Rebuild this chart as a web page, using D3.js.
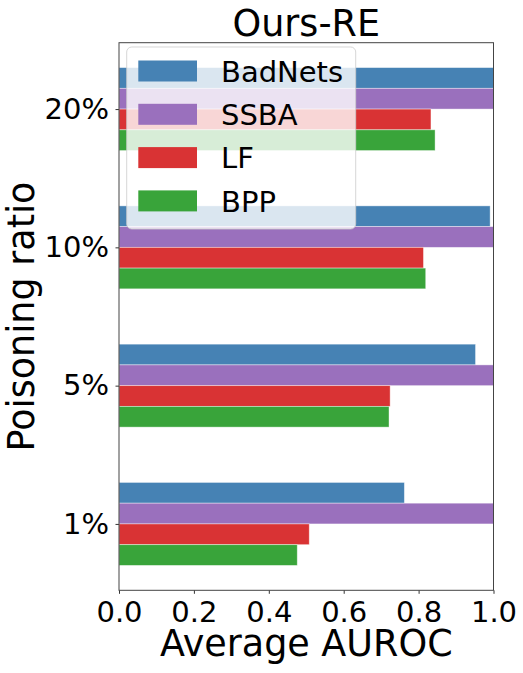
<!DOCTYPE html>
<html>
<head>
<meta charset="utf-8">
<script src="https://cdn.jsdelivr.net/npm/d3@7"></script>
<style>
  body { margin: 0; background: #fff; }
  svg text { font-family: "DejaVu Sans", sans-serif; fill: #000; }
</style>
</head>
<body>
<div id="chart"></div>
<script>
// data
var categories = ["1%", "5%", "10%", "20%"];
var seriesNames = ["BadNets", "SSBA", "LF", "BPP"];
var badnets = [0.762, 0.952, 0.991, 1.0];
var ssba = [1.0, 1.0, 1.0, 1.0];
var lf = [0.508, 0.724, 0.813, 0.833];
var bpp = [0.476, 0.721, 0.819, 0.844];
var xTicks = [0, 0.2, 0.4, 0.6, 0.8, 1.0];

var colors = ["#4682B4", "#9A70BD", "#D93334", "#39A43A"];
var seriesValues = [badnets, ssba, lf, bpp];

var svgWidth = 523, svgHeight = 673;
var margin = { top: 42.7, bottom: 82.7, left: 119, right: 29.5 };
var width = svgWidth - margin.left - margin.right;
var height = svgHeight - margin.top - margin.bottom;

var svg = d3.select("#chart")
  .append("svg")
  .attr("width", svgWidth)
  .attr("height", svgHeight);

var chartGroup = svg.append("g")
  .attr("transform", `translate(${margin.left}, ${margin.top})`);

// scales
var xScale = d3.scaleLinear().domain([0, 1]).range([0, width]);
var yScale = d3.scaleLinear().domain([-0.48, 3.48]).range([height, 0]);

var barH = 0.15;
// offset of each series' bar top from category centre
var offsets = [0.3, 0.15, 0, -0.15];

var rows = [];
seriesNames.forEach(function(name, s) {
  categories.forEach(function(cat, i) {
    rows.push({ s: s, i: i, value: seriesValues[s][i] });
  });
});

chartGroup.selectAll("rect.bar")
  .data(rows)
  .enter()
  .append("rect")
  .attr("class", "bar")
  .attr("x", xScale(0))
  .attr("y", d => yScale(d.i + offsets[d.s]))
  .attr("width", d => xScale(d.value) - xScale(0))
  .attr("height", d => yScale(0) - yScale(barH))
  .attr("fill", d => colors[d.s])
  .attr("stroke", "#fff")
  .attr("stroke-opacity", 0.5)
  .attr("stroke-width", 0.8);

// axes
var xAxis = d3.axisBottom(xScale).tickValues(xTicks).tickFormat(d3.format(".1f")).tickSizeInner(3.5).tickSizeOuter(0);
var yAxis = d3.axisLeft(yScale).tickValues([0, 1, 2, 3]).tickFormat(d => categories[d]).tickSizeInner(3.5).tickSizeOuter(0);

var gx = chartGroup.append("g")
  .attr("transform", `translate(0, ${height})`)
  .call(xAxis);
gx.selectAll("text")
  .attr("y", 31.4)
  .attr("dy", null)
  .style("font-size", "29px");

var gy = chartGroup.append("g").call(yAxis);
gy.selectAll("text")
  .attr("x", -10)
  .style("font-size", "29px");

[gx, gy].forEach(function(g) {
  g.select(".domain").remove();
  g.selectAll(".tick line").attr("stroke", "#333").attr("stroke-width", 1);
});

// frame
chartGroup.append("rect")
  .attr("x", 0).attr("y", 0)
  .attr("width", width).attr("height", height)
  .attr("fill", "none")
  .attr("stroke", "#444")
  .attr("stroke-width", 1);

// legend
var legend = chartGroup.append("g")
  .attr("transform", "translate(7.7, 4.3)");

legend.append("rect")
  .attr("width", 229).attr("height", 182)
  .attr("rx", 5).attr("ry", 5)
  .attr("fill", "#fff")
  .attr("fill-opacity", 0.8)
  .attr("stroke", "#ccc")
  .attr("stroke-opacity", 0.8);

var item = legend.selectAll("g.item")
  .data(seriesNames)
  .enter()
  .append("g")
  .attr("class", "item")
  .attr("transform", (d, k) => `translate(0, ${24 + k * 43.3})`);

item.append("rect")
  .attr("x", 11.6).attr("y", -10.5)
  .attr("width", 58.7).attr("height", 21)
  .attr("fill", (d, k) => colors[k]);

item.append("text")
  .attr("x", 94.3)
  .attr("y", 10.6)
  .style("font-size", "29px")
  .text(d => d);

// title and axis labels
svg.append("text")
  .attr("x", margin.left + width / 2)
  .attr("y", 36)
  .attr("text-anchor", "middle")
  .style("font-size", "36.5px")
  .text("Ours-RE");

svg.append("text")
  .attr("x", margin.left + width / 2)
  .attr("y", 656)
  .attr("text-anchor", "middle")
  .style("font-size", "36.5px")
  .text("Average AUROC");

svg.append("text")
  .attr("transform", `translate(34, ${margin.top + height / 2}) rotate(-90)`)
  .attr("text-anchor", "middle")
  .style("font-size", "36.5px")
  .text("Poisoning ratio");
</script>
</body>
</html>
